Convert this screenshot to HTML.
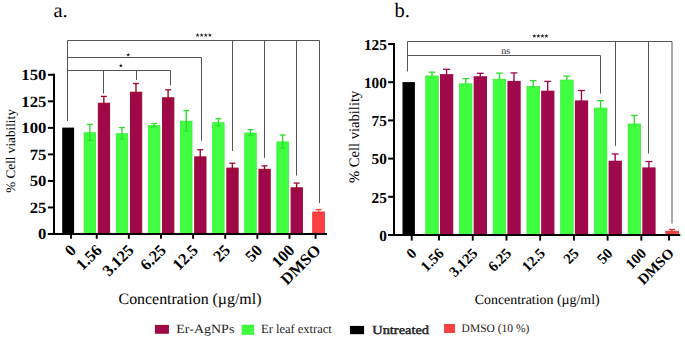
<!DOCTYPE html>
<html><head><meta charset="utf-8"><style>
html,body{margin:0;padding:0;background:#fff;}
body{width:685px;height:337px;overflow:hidden;}
svg{display:block;font-family:"Liberation Serif",serif;text-rendering:geometricPrecision;}
</style></head><body>
<svg width="685" height="337" viewBox="0 0 685 337">
<rect x="62.20" y="127.60" width="11.90" height="106.40" fill="#000"/>
<rect x="84.10" y="132.80" width="11.50" height="100.80" fill="#40FF40" stroke="#36ec36" stroke-width="0.8"/>
<line x1="89.85" y1="124.40" x2="89.85" y2="140.40" stroke="#2fdc2f" stroke-width="1.4"/>
<line x1="86.85" y1="124.40" x2="92.85" y2="124.40" stroke="#2fdc2f" stroke-width="1.3"/>
<line x1="86.85" y1="140.40" x2="92.85" y2="140.40" stroke="#2fdc2f" stroke-width="1.1"/>
<rect x="98.30" y="103.20" width="11.30" height="130.30" fill="#A0084C" stroke="#9c0a2a" stroke-width="1"/>
<line x1="103.85" y1="96.40" x2="103.85" y2="109.00" stroke="#9c0a2a" stroke-width="1.4"/>
<line x1="100.85" y1="96.40" x2="106.85" y2="96.40" stroke="#9c0a2a" stroke-width="1.3"/>
<line x1="100.85" y1="109.00" x2="106.85" y2="109.00" stroke="#9c0a2a" stroke-width="1.1"/>
<rect x="116.23" y="133.70" width="11.50" height="99.90" fill="#40FF40" stroke="#36ec36" stroke-width="0.8"/>
<line x1="121.98" y1="127.60" x2="121.98" y2="139.00" stroke="#2fdc2f" stroke-width="1.4"/>
<line x1="118.98" y1="127.60" x2="124.98" y2="127.60" stroke="#2fdc2f" stroke-width="1.3"/>
<line x1="118.98" y1="139.00" x2="124.98" y2="139.00" stroke="#2fdc2f" stroke-width="1.1"/>
<rect x="130.43" y="92.20" width="11.30" height="141.30" fill="#A0084C" stroke="#9c0a2a" stroke-width="1"/>
<line x1="135.98" y1="83.50" x2="135.98" y2="99.90" stroke="#9c0a2a" stroke-width="1.4"/>
<line x1="132.98" y1="83.50" x2="138.98" y2="83.50" stroke="#9c0a2a" stroke-width="1.3"/>
<line x1="132.98" y1="99.90" x2="138.98" y2="99.90" stroke="#9c0a2a" stroke-width="1.1"/>
<rect x="148.36" y="125.60" width="11.50" height="108.00" fill="#40FF40" stroke="#36ec36" stroke-width="0.8"/>
<line x1="154.11" y1="123.50" x2="154.11" y2="126.90" stroke="#2fdc2f" stroke-width="1.4"/>
<line x1="151.11" y1="123.50" x2="157.11" y2="123.50" stroke="#2fdc2f" stroke-width="1.3"/>
<line x1="151.11" y1="126.90" x2="157.11" y2="126.90" stroke="#2fdc2f" stroke-width="1.1"/>
<rect x="162.56" y="97.80" width="11.30" height="135.70" fill="#A0084C" stroke="#9c0a2a" stroke-width="1"/>
<line x1="168.11" y1="89.80" x2="168.11" y2="104.80" stroke="#9c0a2a" stroke-width="1.4"/>
<line x1="165.11" y1="89.80" x2="171.11" y2="89.80" stroke="#9c0a2a" stroke-width="1.3"/>
<line x1="165.11" y1="104.80" x2="171.11" y2="104.80" stroke="#9c0a2a" stroke-width="1.1"/>
<rect x="180.49" y="121.20" width="11.50" height="112.40" fill="#40FF40" stroke="#36ec36" stroke-width="0.8"/>
<line x1="186.24" y1="110.60" x2="186.24" y2="131.00" stroke="#2fdc2f" stroke-width="1.4"/>
<line x1="183.24" y1="110.60" x2="189.24" y2="110.60" stroke="#2fdc2f" stroke-width="1.3"/>
<line x1="183.24" y1="131.00" x2="189.24" y2="131.00" stroke="#2fdc2f" stroke-width="1.1"/>
<rect x="194.69" y="156.90" width="11.30" height="76.60" fill="#A0084C" stroke="#9c0a2a" stroke-width="1"/>
<line x1="200.24" y1="149.70" x2="200.24" y2="163.10" stroke="#9c0a2a" stroke-width="1.4"/>
<line x1="197.24" y1="149.70" x2="203.24" y2="149.70" stroke="#9c0a2a" stroke-width="1.3"/>
<line x1="197.24" y1="163.10" x2="203.24" y2="163.10" stroke="#9c0a2a" stroke-width="1.1"/>
<rect x="212.62" y="122.70" width="11.50" height="110.90" fill="#40FF40" stroke="#36ec36" stroke-width="0.8"/>
<line x1="218.37" y1="118.70" x2="218.37" y2="125.90" stroke="#2fdc2f" stroke-width="1.4"/>
<line x1="215.37" y1="118.70" x2="221.37" y2="118.70" stroke="#2fdc2f" stroke-width="1.3"/>
<line x1="215.37" y1="125.90" x2="221.37" y2="125.90" stroke="#2fdc2f" stroke-width="1.1"/>
<rect x="226.82" y="168.10" width="11.30" height="65.40" fill="#A0084C" stroke="#9c0a2a" stroke-width="1"/>
<line x1="232.37" y1="163.20" x2="232.37" y2="172.00" stroke="#9c0a2a" stroke-width="1.4"/>
<line x1="229.37" y1="163.20" x2="235.37" y2="163.20" stroke="#9c0a2a" stroke-width="1.3"/>
<line x1="229.37" y1="172.00" x2="235.37" y2="172.00" stroke="#9c0a2a" stroke-width="1.1"/>
<rect x="244.75" y="133.00" width="11.50" height="100.60" fill="#40FF40" stroke="#36ec36" stroke-width="0.8"/>
<line x1="250.50" y1="129.70" x2="250.50" y2="135.50" stroke="#2fdc2f" stroke-width="1.4"/>
<line x1="247.50" y1="129.70" x2="253.50" y2="129.70" stroke="#2fdc2f" stroke-width="1.3"/>
<line x1="247.50" y1="135.50" x2="253.50" y2="135.50" stroke="#2fdc2f" stroke-width="1.1"/>
<rect x="258.95" y="169.30" width="11.30" height="64.20" fill="#A0084C" stroke="#9c0a2a" stroke-width="1"/>
<line x1="264.50" y1="165.90" x2="264.50" y2="171.70" stroke="#9c0a2a" stroke-width="1.4"/>
<line x1="261.50" y1="165.90" x2="267.50" y2="165.90" stroke="#9c0a2a" stroke-width="1.3"/>
<line x1="261.50" y1="171.70" x2="267.50" y2="171.70" stroke="#9c0a2a" stroke-width="1.1"/>
<rect x="276.88" y="141.90" width="11.50" height="91.70" fill="#40FF40" stroke="#36ec36" stroke-width="0.8"/>
<line x1="282.63" y1="135.00" x2="282.63" y2="148.00" stroke="#2fdc2f" stroke-width="1.4"/>
<line x1="279.63" y1="135.00" x2="285.63" y2="135.00" stroke="#2fdc2f" stroke-width="1.3"/>
<line x1="279.63" y1="148.00" x2="285.63" y2="148.00" stroke="#2fdc2f" stroke-width="1.1"/>
<rect x="291.08" y="187.80" width="11.30" height="45.70" fill="#A0084C" stroke="#9c0a2a" stroke-width="1"/>
<line x1="296.63" y1="183.10" x2="296.63" y2="191.50" stroke="#9c0a2a" stroke-width="1.4"/>
<line x1="293.63" y1="183.10" x2="299.63" y2="183.10" stroke="#9c0a2a" stroke-width="1.3"/>
<line x1="293.63" y1="191.50" x2="299.63" y2="191.50" stroke="#9c0a2a" stroke-width="1.1"/>
<rect x="312.70" y="212.00" width="11.80" height="21.60" fill="#FF4040" stroke="#e83030" stroke-width="0.8"/>
<line x1="318.60" y1="209.60" x2="318.60" y2="213.60" stroke="#FF4040" stroke-width="1.4"/>
<line x1="315.60" y1="209.60" x2="321.60" y2="209.60" stroke="#FF4040" stroke-width="1.3"/>
<line x1="315.60" y1="213.60" x2="321.60" y2="213.60" stroke="#FF4040" stroke-width="1.1"/>
<line x1="67.50" y1="40.50" x2="319.50" y2="40.50" stroke="#555" stroke-width="1"/>
<line x1="67.50" y1="40.50" x2="67.50" y2="121.00" stroke="#555" stroke-width="1"/>
<line x1="232.50" y1="40.50" x2="232.50" y2="151.00" stroke="#555" stroke-width="1"/>
<line x1="264.50" y1="40.50" x2="264.50" y2="157.80" stroke="#555" stroke-width="1"/>
<line x1="296.50" y1="40.50" x2="296.50" y2="175.50" stroke="#555" stroke-width="1"/>
<line x1="319.50" y1="40.50" x2="319.50" y2="203.10" stroke="#555" stroke-width="1"/>
<line x1="67.50" y1="57.50" x2="201.50" y2="57.50" stroke="#555" stroke-width="1"/>
<line x1="201.50" y1="57.50" x2="201.50" y2="140.80" stroke="#555" stroke-width="1"/>
<line x1="67.50" y1="70.50" x2="170.50" y2="70.50" stroke="#555" stroke-width="1"/>
<line x1="103.50" y1="70.50" x2="103.50" y2="93.50" stroke="#555" stroke-width="1"/>
<line x1="136.50" y1="70.50" x2="136.50" y2="80.00" stroke="#555" stroke-width="1"/>
<line x1="170.50" y1="70.50" x2="170.50" y2="85.40" stroke="#555" stroke-width="1"/>
<line x1="54.00" y1="73.70" x2="54.00" y2="235.00" stroke="#000" stroke-width="2"/>
<line x1="47.90" y1="234.00" x2="327.00" y2="234.00" stroke="#000" stroke-width="2"/>
<line x1="47.90" y1="234.00" x2="54.00" y2="234.00" stroke="#000" stroke-width="2"/>
<text x="0" y="0" font-size="15.6" text-anchor="end" font-weight="bold" fill="#000" transform="translate(46.40 239.20) scale(1.07 1.0)">0</text>
<line x1="47.90" y1="207.47" x2="54.00" y2="207.47" stroke="#000" stroke-width="2"/>
<text x="0" y="0" font-size="15.6" text-anchor="end" font-weight="bold" fill="#000" transform="translate(46.40 212.67) scale(1.07 1.0)">25</text>
<line x1="47.90" y1="180.93" x2="54.00" y2="180.93" stroke="#000" stroke-width="2"/>
<text x="0" y="0" font-size="15.6" text-anchor="end" font-weight="bold" fill="#000" transform="translate(46.40 186.13) scale(1.07 1.0)">50</text>
<line x1="47.90" y1="154.40" x2="54.00" y2="154.40" stroke="#000" stroke-width="2"/>
<text x="0" y="0" font-size="15.6" text-anchor="end" font-weight="bold" fill="#000" transform="translate(46.40 159.60) scale(1.07 1.0)">75</text>
<line x1="47.90" y1="127.87" x2="54.00" y2="127.87" stroke="#000" stroke-width="2"/>
<text x="0" y="0" font-size="15.6" text-anchor="end" font-weight="bold" fill="#000" transform="translate(46.40 133.07) scale(1.07 1.0)">100</text>
<line x1="47.90" y1="101.33" x2="54.00" y2="101.33" stroke="#000" stroke-width="2"/>
<text x="0" y="0" font-size="15.6" text-anchor="end" font-weight="bold" fill="#000" transform="translate(46.40 106.53) scale(1.07 1.0)">125</text>
<line x1="47.90" y1="74.80" x2="54.00" y2="74.80" stroke="#000" stroke-width="2"/>
<text x="0" y="0" font-size="15.6" text-anchor="end" font-weight="bold" fill="#000" transform="translate(46.40 80.00) scale(1.07 1.0)">150</text>
<line x1="71.00" y1="234.00" x2="71.00" y2="238.80" stroke="#000" stroke-width="1.9"/>
<line x1="96.70" y1="234.00" x2="96.70" y2="238.80" stroke="#000" stroke-width="1.9"/>
<line x1="128.83" y1="234.00" x2="128.83" y2="238.80" stroke="#000" stroke-width="1.9"/>
<line x1="160.96" y1="234.00" x2="160.96" y2="238.80" stroke="#000" stroke-width="1.9"/>
<line x1="193.09" y1="234.00" x2="193.09" y2="238.80" stroke="#000" stroke-width="1.9"/>
<line x1="225.22" y1="234.00" x2="225.22" y2="238.80" stroke="#000" stroke-width="1.9"/>
<line x1="257.35" y1="234.00" x2="257.35" y2="238.80" stroke="#000" stroke-width="1.9"/>
<line x1="289.48" y1="234.00" x2="289.48" y2="238.80" stroke="#000" stroke-width="1.9"/>
<line x1="315.60" y1="234.00" x2="315.60" y2="238.80" stroke="#000" stroke-width="1.9"/>
<text x="0" y="0" font-size="16.3" text-anchor="end" font-weight="bold" fill="#000" transform="translate(77.00 251.20) rotate(-45)">0</text>
<text x="0" y="0" font-size="16.3" text-anchor="end" font-weight="bold" fill="#000" transform="translate(102.70 251.20) rotate(-45)">1.56</text>
<text x="0" y="0" font-size="16.3" text-anchor="end" font-weight="bold" fill="#000" transform="translate(134.83 251.20) rotate(-45)">3.125</text>
<text x="0" y="0" font-size="16.3" text-anchor="end" font-weight="bold" fill="#000" transform="translate(166.96 251.20) rotate(-45)">6.25</text>
<text x="0" y="0" font-size="16.3" text-anchor="end" font-weight="bold" fill="#000" transform="translate(199.09 251.20) rotate(-45)">12.5</text>
<text x="0" y="0" font-size="16.3" text-anchor="end" font-weight="bold" fill="#000" transform="translate(231.22 251.20) rotate(-45)">25</text>
<text x="0" y="0" font-size="16.3" text-anchor="end" font-weight="bold" fill="#000" transform="translate(263.35 251.20) rotate(-45)">50</text>
<text x="0" y="0" font-size="16.3" text-anchor="end" font-weight="bold" fill="#000" transform="translate(295.48 251.20) rotate(-45)">100</text>
<text x="0" y="0" font-size="16.3" text-anchor="end" font-weight="bold" fill="#000" transform="translate(321.60 251.20) rotate(-45)">DMSO</text>
<rect x="402.50" y="82.10" width="12.40" height="152.90" fill="#000"/>
<line x1="432.00" y1="72.20" x2="432.00" y2="79.00" stroke="#2fdc2f" stroke-width="1.4"/>
<line x1="428.65" y1="72.20" x2="435.35" y2="72.20" stroke="#2fdc2f" stroke-width="1.3"/>
<rect x="425.80" y="76.00" width="12.45" height="158.60" fill="#40FF40" stroke="#36ec36" stroke-width="0.8"/>
<line x1="446.55" y1="69.30" x2="446.55" y2="78.90" stroke="#A0084C" stroke-width="1.4"/>
<line x1="443.05" y1="69.30" x2="450.05" y2="69.30" stroke="#A0084C" stroke-width="1.3"/>
<rect x="439.95" y="74.10" width="13.30" height="160.90" fill="#A0084C"/>
<line x1="465.73" y1="78.60" x2="465.73" y2="88.20" stroke="#2fdc2f" stroke-width="1.4"/>
<line x1="462.38" y1="78.60" x2="469.08" y2="78.60" stroke="#2fdc2f" stroke-width="1.3"/>
<rect x="459.52" y="83.80" width="12.45" height="150.80" fill="#40FF40" stroke="#36ec36" stroke-width="0.8"/>
<line x1="480.28" y1="73.30" x2="480.28" y2="79.10" stroke="#A0084C" stroke-width="1.4"/>
<line x1="476.78" y1="73.30" x2="483.78" y2="73.30" stroke="#A0084C" stroke-width="1.3"/>
<rect x="473.68" y="76.20" width="13.30" height="158.80" fill="#A0084C"/>
<line x1="499.45" y1="73.10" x2="499.45" y2="84.50" stroke="#2fdc2f" stroke-width="1.4"/>
<line x1="496.10" y1="73.10" x2="502.80" y2="73.10" stroke="#2fdc2f" stroke-width="1.3"/>
<rect x="493.25" y="79.20" width="12.45" height="155.40" fill="#40FF40" stroke="#36ec36" stroke-width="0.8"/>
<line x1="514.00" y1="72.90" x2="514.00" y2="88.90" stroke="#A0084C" stroke-width="1.4"/>
<line x1="510.50" y1="72.90" x2="517.50" y2="72.90" stroke="#A0084C" stroke-width="1.3"/>
<rect x="507.40" y="80.90" width="13.30" height="154.10" fill="#A0084C"/>
<line x1="533.17" y1="80.60" x2="533.17" y2="91.60" stroke="#2fdc2f" stroke-width="1.4"/>
<line x1="529.82" y1="80.60" x2="536.52" y2="80.60" stroke="#2fdc2f" stroke-width="1.3"/>
<rect x="526.97" y="86.50" width="12.45" height="148.10" fill="#40FF40" stroke="#36ec36" stroke-width="0.8"/>
<line x1="547.72" y1="81.40" x2="547.72" y2="100.00" stroke="#A0084C" stroke-width="1.4"/>
<line x1="544.22" y1="81.40" x2="551.22" y2="81.40" stroke="#A0084C" stroke-width="1.3"/>
<rect x="541.12" y="90.70" width="13.30" height="144.30" fill="#A0084C"/>
<line x1="566.90" y1="76.10" x2="566.90" y2="83.30" stroke="#2fdc2f" stroke-width="1.4"/>
<line x1="563.55" y1="76.10" x2="570.25" y2="76.10" stroke="#2fdc2f" stroke-width="1.3"/>
<rect x="560.70" y="80.10" width="12.45" height="154.50" fill="#40FF40" stroke="#36ec36" stroke-width="0.8"/>
<line x1="581.45" y1="90.50" x2="581.45" y2="110.30" stroke="#A0084C" stroke-width="1.4"/>
<line x1="577.95" y1="90.50" x2="584.95" y2="90.50" stroke="#A0084C" stroke-width="1.3"/>
<rect x="574.85" y="100.40" width="13.30" height="134.60" fill="#A0084C"/>
<line x1="600.62" y1="100.70" x2="600.62" y2="114.70" stroke="#2fdc2f" stroke-width="1.4"/>
<line x1="597.27" y1="100.70" x2="603.98" y2="100.70" stroke="#2fdc2f" stroke-width="1.3"/>
<rect x="594.42" y="108.10" width="12.45" height="126.50" fill="#40FF40" stroke="#36ec36" stroke-width="0.8"/>
<line x1="615.17" y1="154.00" x2="615.17" y2="167.40" stroke="#A0084C" stroke-width="1.4"/>
<line x1="611.67" y1="154.00" x2="618.67" y2="154.00" stroke="#A0084C" stroke-width="1.3"/>
<rect x="608.58" y="160.70" width="13.30" height="74.30" fill="#A0084C"/>
<line x1="634.35" y1="115.40" x2="634.35" y2="131.80" stroke="#2fdc2f" stroke-width="1.4"/>
<line x1="631.00" y1="115.40" x2="637.70" y2="115.40" stroke="#2fdc2f" stroke-width="1.3"/>
<rect x="628.15" y="124.00" width="12.45" height="110.60" fill="#40FF40" stroke="#36ec36" stroke-width="0.8"/>
<line x1="648.90" y1="161.50" x2="648.90" y2="173.30" stroke="#A0084C" stroke-width="1.4"/>
<line x1="645.40" y1="161.50" x2="652.40" y2="161.50" stroke="#A0084C" stroke-width="1.3"/>
<rect x="642.30" y="167.40" width="13.30" height="67.60" fill="#A0084C"/>
<line x1="671.90" y1="229.40" x2="671.90" y2="232.20" stroke="#e83030" stroke-width="1.4"/>
<line x1="668.90" y1="229.40" x2="674.90" y2="229.40" stroke="#e83030" stroke-width="1.3"/>
<rect x="665.80" y="231.20" width="12.70" height="3.40" fill="#FF4040" stroke="#e83030" stroke-width="0.8"/>
<line x1="407.50" y1="41.50" x2="672.00" y2="41.50" stroke="#555" stroke-width="1"/>
<line x1="407.50" y1="41.50" x2="407.50" y2="71.40" stroke="#555" stroke-width="1"/>
<line x1="615.50" y1="41.50" x2="615.50" y2="145.90" stroke="#555" stroke-width="1"/>
<line x1="648.50" y1="41.50" x2="648.50" y2="153.50" stroke="#555" stroke-width="1"/>
<line x1="672.00" y1="41.50" x2="672.00" y2="223.60" stroke="#555" stroke-width="1"/>
<line x1="407.50" y1="55.50" x2="600.50" y2="55.50" stroke="#555" stroke-width="1"/>
<line x1="600.50" y1="55.50" x2="600.50" y2="93.60" stroke="#555" stroke-width="1"/>
<line x1="394.00" y1="43.00" x2="394.00" y2="236.00" stroke="#000" stroke-width="2"/>
<line x1="388.10" y1="235.00" x2="680.30" y2="235.00" stroke="#000" stroke-width="2"/>
<line x1="388.10" y1="235.00" x2="394.00" y2="235.00" stroke="#000" stroke-width="2"/>
<text x="0" y="0" font-size="15.3" text-anchor="end" font-weight="bold" fill="#000" transform="translate(386.90 240.70)">0</text>
<line x1="388.10" y1="196.80" x2="394.00" y2="196.80" stroke="#000" stroke-width="2"/>
<text x="0" y="0" font-size="15.3" text-anchor="end" font-weight="bold" fill="#000" transform="translate(386.90 202.50)">25</text>
<line x1="388.10" y1="158.60" x2="394.00" y2="158.60" stroke="#000" stroke-width="2"/>
<text x="0" y="0" font-size="15.3" text-anchor="end" font-weight="bold" fill="#000" transform="translate(386.90 164.30)">50</text>
<line x1="388.10" y1="120.40" x2="394.00" y2="120.40" stroke="#000" stroke-width="2"/>
<text x="0" y="0" font-size="15.3" text-anchor="end" font-weight="bold" fill="#000" transform="translate(386.90 126.10)">75</text>
<line x1="388.10" y1="82.20" x2="394.00" y2="82.20" stroke="#000" stroke-width="2"/>
<text x="0" y="0" font-size="15.3" text-anchor="end" font-weight="bold" fill="#000" transform="translate(386.90 87.90)">100</text>
<line x1="388.10" y1="44.00" x2="394.00" y2="44.00" stroke="#000" stroke-width="2"/>
<text x="0" y="0" font-size="15.3" text-anchor="end" font-weight="bold" fill="#000" transform="translate(386.90 49.70)">125</text>
<line x1="411.70" y1="235.00" x2="411.70" y2="240.60" stroke="#000" stroke-width="1.9"/>
<line x1="439.00" y1="235.00" x2="439.00" y2="240.60" stroke="#000" stroke-width="1.9"/>
<line x1="472.73" y1="235.00" x2="472.73" y2="240.60" stroke="#000" stroke-width="1.9"/>
<line x1="506.45" y1="235.00" x2="506.45" y2="240.60" stroke="#000" stroke-width="1.9"/>
<line x1="540.17" y1="235.00" x2="540.17" y2="240.60" stroke="#000" stroke-width="1.9"/>
<line x1="573.90" y1="235.00" x2="573.90" y2="240.60" stroke="#000" stroke-width="1.9"/>
<line x1="607.62" y1="235.00" x2="607.62" y2="240.60" stroke="#000" stroke-width="1.9"/>
<line x1="641.35" y1="235.00" x2="641.35" y2="240.60" stroke="#000" stroke-width="1.9"/>
<line x1="669.00" y1="235.00" x2="669.00" y2="240.60" stroke="#000" stroke-width="1.9"/>
<text x="0" y="0" font-size="14.8" text-anchor="end" font-weight="bold" fill="#000" transform="translate(417.50 254.20) rotate(-45)">0</text>
<text x="0" y="0" font-size="14.8" text-anchor="end" font-weight="bold" fill="#000" transform="translate(444.80 254.20) rotate(-45)">1.56</text>
<text x="0" y="0" font-size="14.8" text-anchor="end" font-weight="bold" fill="#000" transform="translate(478.53 254.20) rotate(-45)">3.125</text>
<text x="0" y="0" font-size="14.8" text-anchor="end" font-weight="bold" fill="#000" transform="translate(512.25 254.20) rotate(-45)">6.25</text>
<text x="0" y="0" font-size="14.8" text-anchor="end" font-weight="bold" fill="#000" transform="translate(545.97 254.20) rotate(-45)">12.5</text>
<text x="0" y="0" font-size="14.8" text-anchor="end" font-weight="bold" fill="#000" transform="translate(579.70 254.20) rotate(-45)">25</text>
<text x="0" y="0" font-size="14.8" text-anchor="end" font-weight="bold" fill="#000" transform="translate(613.42 254.20) rotate(-45)">50</text>
<text x="0" y="0" font-size="14.8" text-anchor="end" font-weight="bold" fill="#000" transform="translate(647.15 254.20) rotate(-45)">100</text>
<text x="0" y="0" font-size="14.8" text-anchor="end" font-weight="bold" fill="#000" transform="translate(674.80 254.20) rotate(-45)">DMSO</text>
<polygon points="128.20,52.80 128.73,54.17 130.20,54.25 129.06,55.18 129.43,56.60 128.20,55.80 126.97,56.60 127.34,55.18 126.20,54.25 127.67,54.17" fill="#222"/>
<polygon points="120.90,63.60 121.43,64.97 122.90,65.05 121.76,65.98 122.13,67.40 120.90,66.60 119.67,67.40 120.04,65.98 118.90,65.05 120.37,64.97" fill="#222"/>
<polygon points="197.60,33.10 198.13,34.47 199.60,34.55 198.46,35.48 198.83,36.90 197.60,36.10 196.37,36.90 196.74,35.48 195.60,34.55 197.07,34.47" fill="#222"/>
<polygon points="201.70,33.10 202.23,34.47 203.70,34.55 202.56,35.48 202.93,36.90 201.70,36.10 200.47,36.90 200.84,35.48 199.70,34.55 201.17,34.47" fill="#222"/>
<polygon points="205.80,33.10 206.33,34.47 207.80,34.55 206.66,35.48 207.03,36.90 205.80,36.10 204.57,36.90 204.94,35.48 203.80,34.55 205.27,34.47" fill="#222"/>
<polygon points="209.90,33.10 210.43,34.47 211.90,34.55 210.76,35.48 211.13,36.90 209.90,36.10 208.67,36.90 209.04,35.48 207.90,34.55 209.37,34.47" fill="#222"/>
<polygon points="534.30,34.00 534.83,35.37 536.30,35.45 535.16,36.38 535.53,37.80 534.30,37.00 533.07,37.80 533.44,36.38 532.30,35.45 533.77,35.37" fill="#222"/>
<polygon points="538.40,34.00 538.93,35.37 540.40,35.45 539.26,36.38 539.63,37.80 538.40,37.00 537.17,37.80 537.54,36.38 536.40,35.45 537.87,35.37" fill="#222"/>
<polygon points="542.40,34.00 542.93,35.37 544.40,35.45 543.26,36.38 543.63,37.80 542.40,37.00 541.17,37.80 541.54,36.38 540.40,35.45 541.87,35.37" fill="#222"/>
<polygon points="546.40,34.00 546.93,35.37 548.40,35.45 547.26,36.38 547.63,37.80 546.40,37.00 545.17,37.80 545.54,36.38 544.40,35.45 545.87,35.37" fill="#222"/>
<text x="0" y="0" font-size="10" text-anchor="middle" font-weight="normal" fill="#222" transform="translate(505.80 54.00)">ns</text>
<text x="0" y="0" font-size="20.5" text-anchor="start" font-weight="normal" fill="#000" transform="translate(53.50 16.70)">a.</text>
<text x="0" y="0" font-size="20.5" text-anchor="start" font-weight="normal" fill="#000" transform="translate(394.50 16.70)">b.</text>
<text x="0" y="0" font-size="13.2" text-anchor="middle" font-weight="normal" fill="#000" transform="translate(15.00 151.00) rotate(-90)">% Cell viability</text>
<text x="0" y="0" font-size="14.6" text-anchor="middle" font-weight="normal" fill="#000" transform="translate(358.60 136.90) rotate(-90)">% Cell viability</text>
<text x="0" y="0" font-size="15.9" text-anchor="middle" font-weight="normal" fill="#000" transform="translate(190.00 303.70)">Concentration (µg/ml)</text>
<text x="0" y="0" font-size="13.9" text-anchor="middle" font-weight="normal" fill="#000" transform="translate(537.20 303.80)">Concentration (µg/ml)</text>
<rect x="155.40" y="325.40" width="13.00" height="7.80" fill="#A0084C" stroke="#9c0a2a" stroke-width="1"/>
<text x="0" y="0" font-size="12.5" text-anchor="start" font-weight="normal" fill="#222" transform="translate(176.30 332.50) scale(1.12 1.0)">Er-AgNPs</text>
<rect x="242.10" y="325.10" width="11.60" height="9.20" fill="#40FF40" stroke="#36ec36" stroke-width="0.8"/>
<text x="0" y="0" font-size="12.5" text-anchor="start" font-weight="normal" fill="#222" transform="translate(261.00 332.50)">Er leaf extract</text>
<rect x="349.90" y="325.90" width="14.20" height="8.30" fill="#000"/>
<text x="0" y="0" font-size="12.4" text-anchor="start" font-weight="normal" fill="#222" transform="translate(372.30 333.70) scale(1.16 1.0)" stroke="#222" stroke-width="0.45">Untreated</text>
<rect x="444.50" y="324.40" width="10.00" height="8.00" fill="#FF4040" stroke="#e83030" stroke-width="0.8"/>
<text x="0" y="0" font-size="11.5" text-anchor="start" font-weight="normal" fill="#222" transform="translate(461.60 331.80)">DMSO (10 %)</text>
</svg>
</body></html>
